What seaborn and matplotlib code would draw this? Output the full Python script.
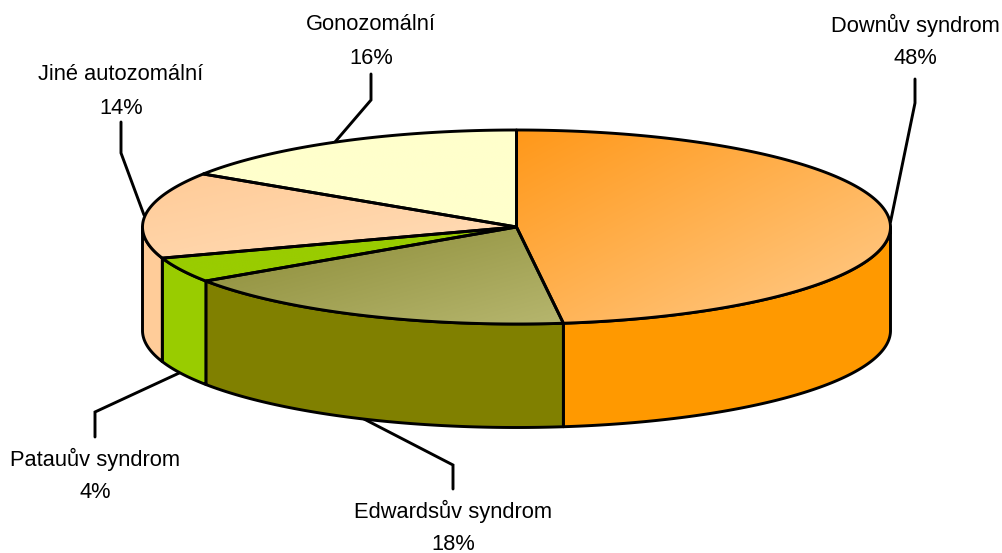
import numpy as np
import matplotlib
matplotlib.use("Agg")
import matplotlib.pyplot as plt
from matplotlib.colors import LinearSegmentedColormap, to_rgb
from matplotlib.patches import Polygon
import seaborn as sns

categories = ["Downův syndrom", "Edwardsův syndrom", "Patauův syndrom", "Jiné autozomální", "Gonozomální"]
shares = [48.0, 17.6, 4.2, 14.4, 15.8]
side_colors = ["#FF9900", "#808000", "#99CC00", "#FFCC99", "#FFFFCC"]
grad_start = ["#FF9819", "#8A8A35", "#99CC00", "#FFCB97", "#FFFFCC"]
grad_end = ["#FFCC8C", "#B6B66E", "#99CC00", "#FFDDB9", "#FFFFCC"]

sns.set_theme(style="white")
plt.rcParams["font.family"] = ["Liberation Sans", "DejaVu Sans"]
palette = sns.color_palette(side_colors)

W, H = 1003, 553
fig = plt.figure(figsize=(W / 100, H / 100), dpi=100, facecolor="white")
ax = fig.add_axes([0, 0, 1, 1])

CX, CY, A, B, DEPTH = 516.5, 227.0, 374.0, 97.0, 103.5
LW = 2.1


def rim(t0, t1, n=200):
    t = np.radians(np.linspace(t0, t1, n))
    return np.column_stack([CX + A * np.sin(t), CY - B * np.cos(t)])


edges = np.concatenate([[0], np.cumsum(shares)]) * 3.6

# visible outer wall: only the front half of the cylinder
for i in range(len(shares)):
    t0, t1 = max(edges[i], 90), min(edges[i + 1], 270)
    if t0 >= t1:
        continue
    top = rim(t0, t1)
    bottom = top[::-1] + [0, DEPTH]
    ax.add_patch(Polygon(np.vstack([top, bottom]), closed=True, facecolor=palette[i],
                         edgecolor="black", lw=LW, joinstyle="round", zorder=2))

# top faces, with a diagonal gradient clipped to the slice
for i in range(len(shares)):
    pts = np.vstack([[CX, CY], rim(edges[i], edges[i + 1])])
    x0, y0 = pts.min(axis=0)
    x1, y1 = pts.max(axis=0)
    gx, gy = np.meshgrid(np.linspace(0, 1, 200), np.linspace(0, 1, 200))
    ramp = (gx + gy) / 2
    cmap = LinearSegmentedColormap.from_list("g", [to_rgb(grad_start[i]), to_rgb(grad_end[i])])
    im = ax.imshow(ramp, extent=(x0, x1, y1, y0), cmap=cmap, vmin=0, vmax=1,
                   aspect="auto", zorder=3, interpolation="bilinear")
    patch = Polygon(pts, closed=True, facecolor="none", edgecolor="black", lw=LW,
                    joinstyle="round", zorder=4)
    ax.add_patch(patch)
    im.set_clip_path(patch)

# leader lines
leaders = [
    [(915, 79), (915, 103), (890.5, 222)],
    [(453, 489), (453, 465), (364, 419)],
    [(95, 437), (95, 412), (190, 368)],
    [(121, 122), (121, 153), (144, 215)],
    [(371, 74), (371, 100), (335, 142)],
]
for pts in leaders:
    xs, ys = zip(*pts)
    ax.plot(xs, ys, color="black", lw=LW, solid_joinstyle="miter", zorder=1)

# labels
label_pos = [(915, 25), (453, 511), (95, 459), (121, 75), (371, 25)]
for (x, y), name, v in zip(label_pos, categories, shares):
    ax.text(x, y, name, ha="center", va="center", fontsize=15.75, color="black", zorder=5)
    ax.text(x, y + 33.5, f"{v:.0f}%", ha="center", va="center", fontsize=15.75, color="black", zorder=5)

ax.set_xlim(0, W)
ax.set_ylim(H, 0)
ax.axis("off")
fig.savefig("out.png", dpi=100, facecolor="white")
